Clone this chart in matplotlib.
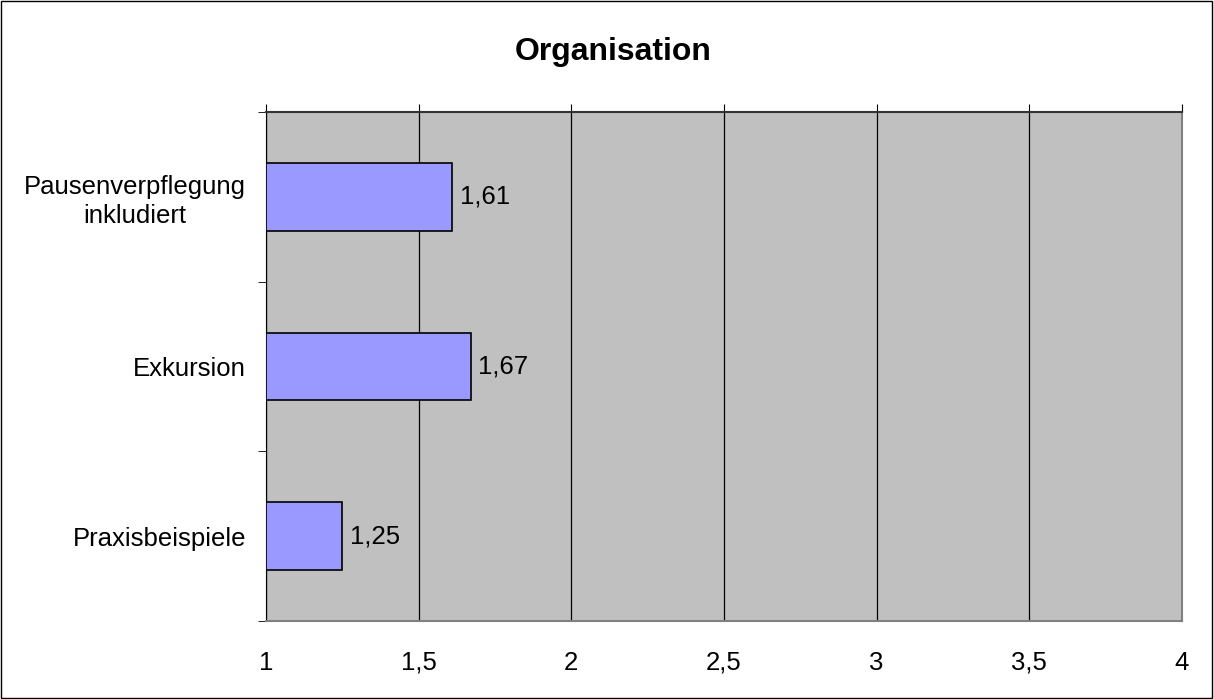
import matplotlib.pyplot as plt
from matplotlib.patches import Rectangle
import numpy as np

plt.rcParams['font.family'] = ['Liberation Sans', 'DejaVu Sans']

categories = ['Pausenverpflegung\ninkludiert', 'Exkursion', 'Praxisbeispiele']
values = [1.61, 1.67, 1.25]
x_ticks = [1, 1.5, 2, 2.5, 3, 3.5, 4]
x_labels = ['1', '1,5', '2', '2,5', '3', '3,5', '4']

fig = plt.figure(figsize=(12.14, 6.99), dpi=100)
ax = fig.add_axes([0.2191, 0.1116, 0.7545, 0.7282])
ax.set_facecolor('#C0C0C0')

y = np.arange(len(categories))[::-1]
base = 1
ax.barh(y, [v - base for v in values], left=base, height=0.4,
        color='#9999FF', edgecolor='black', linewidth=1.2, zorder=3)

for yi, v in zip(y, values):
    ax.text(v + 0.025, yi, f'{v:.2f}'.replace('.', ','), va='center', ha='left',
            fontsize=18.5, zorder=4)

ax.set_xlim(1, 4)
ax.set_ylim(-0.5, len(categories) - 0.5)
ax.set_xticks(x_ticks)
ax.set_xticklabels(x_labels, fontsize=18.5)
ax.grid(axis='x', color='black', linewidth=0.9, zorder=1)

ax.set_yticks(y)
ax.set_yticklabels(categories, fontsize=18.5, linespacing=1.25)
for lab in ax.get_yticklabels():
    lab.set_multialignment('center')
ax.set_yticks(np.arange(-0.5, len(categories), 1), minor=True)
ax.tick_params(axis='y', which='major', length=0, pad=20 * 0.72)
ax.tick_params(axis='y', which='minor', length=8 * 0.72, direction='out', color='black')
ax.tick_params(axis='x', which='major', bottom=False, top=True, length=8 * 0.72,
               direction='out', pad=22 * 0.72, labelbottom=True, labeltop=False)

ax.spines['left'].set_color('black')
ax.spines['top'].set_color('#333333')
ax.spines['top'].set_linewidth(1.5)
ax.spines['bottom'].set_color('#808080')
ax.spines['bottom'].set_linewidth(1.5)
ax.spines['right'].set_color('#808080')
ax.spines['right'].set_linewidth(1.5)

fig.text(0.505, 0.926, 'Organisation', ha='center', va='center',
         fontsize=23, fontweight='bold')

fig.patches.append(Rectangle((0.001, 0.001), 0.997, 0.997, transform=fig.transFigure,
                             fill=False, edgecolor='black', linewidth=1))

fig.savefig('out.png', dpi=100)
